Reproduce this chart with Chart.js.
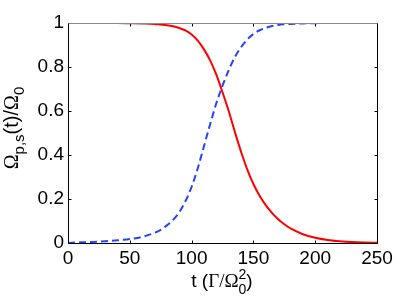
<!DOCTYPE html>
<html>
<head>
<meta charset="utf-8">
<script src="https://cdn.jsdelivr.net/npm/chart.js@4.4.1/dist/chart.umd.min.js"></script>
<style>
  html, body { margin: 0; padding: 0; background: #fff; }
  #wrap { position: relative; width: 415px; height: 308px; }
</style>
</head>
<body>
<div id="wrap"><canvas id="c"></canvas></div>
<script>
// time samples (units of Gamma/Omega_0^2)
const T = [0, 10, 20, 30, 40, 50, 60, 70, 75, 80, 85, 90, 95, 100, 105, 110, 115, 120, 125, 130, 135, 140, 145, 150, 155, 160, 165, 170, 175, 180, 190, 200, 210, 220, 230, 240, 250];
// pump (red, solid) and Stokes (blue, dashed), normalised to Omega_0
const P_VALS = [1, 1, 1, 1, 1, 0.999, 0.998, 0.996, 0.993, 0.99, 0.985, 0.977, 0.966, 0.948, 0.92, 0.88, 0.83, 0.765, 0.685, 0.6, 0.505, 0.415, 0.335, 0.268, 0.215, 0.172, 0.137, 0.108, 0.085, 0.066, 0.04, 0.024, 0.014, 0.008, 0.004, 0.002, 0.001];
const S_VALS = [0, 0.003, 0.005, 0.008, 0.012, 0.018, 0.028, 0.046, 0.06, 0.08, 0.105, 0.14, 0.19, 0.255, 0.34, 0.44, 0.54, 0.635, 0.715, 0.785, 0.845, 0.89, 0.925, 0.95, 0.967, 0.978, 0.986, 0.991, 0.994, 0.996, 0.998, 0.999, 1, 1, 1, 1, 1];
const X_TICKS = [0, 50, 100, 150, 200, 250];
const Y_TICKS = [0, 0.2, 0.4, 0.6, 0.8, 1];

const SANS = "'Liberation Sans', Arial, sans-serif";
const SERIF = "'Liberation Serif', 'Times New Roman', serif";

// draws text runs centred on (0,0) in the current transform
function drawRuns(ctx, runs) {
  let total = 0;
  runs.forEach(r => {
    ctx.font = r.size + 'px ' + (r.serif ? SERIF : SANS);
    r.w = r.stack
      ? Math.max(ctx.measureText(r.sup).width, ctx.measureText(r.sub).width)
      : ctx.measureText(r.t).width;
    total += r.w + (r.gap || 0);
  });
  let x = -total / 2;
  ctx.textBaseline = 'alphabetic';
  ctx.textAlign = 'left';
  runs.forEach(r => {
    ctx.font = r.size + 'px ' + (r.serif ? SERIF : SANS);
    if (r.stack) {
      ctx.fillText(r.sup, x, -8);
      ctx.fillText(r.sub, x, 7);
    } else {
      ctx.fillText(r.t, x, r.dy || 0);
    }
    x += r.w + (r.gap || 0);
  });
}

const frame = {
  id: 'frame',
  afterDraw(chart) {
    const { ctx, chartArea: a, scales } = chart;
    const L = Math.round(a.left) + 0.5, R = Math.round(a.right) + 0.5;
    const Tp = Math.round(a.top) + 0.5, B = Math.round(a.bottom) + 0.5;
    ctx.save();
    ctx.lineWidth = 1;
    ctx.strokeStyle = '#000';
    ctx.beginPath();
    X_TICKS.forEach(v => {
      const px = Math.round(scales.x.getPixelForValue(v)) + 0.5;
      ctx.moveTo(px, B); ctx.lineTo(px, B - 3);
      ctx.moveTo(px, Tp); ctx.lineTo(px, Tp + 3);
    });
    Y_TICKS.forEach(v => {
      const py = Math.round(scales.y.getPixelForValue(v)) + 0.5;
      ctx.moveTo(L, py); ctx.lineTo(L + 3, py);
      ctx.moveTo(R, py); ctx.lineTo(R - 3, py);
    });
    ctx.moveTo(L, Tp); ctx.lineTo(L, B); ctx.lineTo(R, B); ctx.lineTo(R, Tp);
    ctx.stroke();
    ctx.strokeStyle = '#888';
    ctx.beginPath();
    ctx.moveTo(L, Tp); ctx.lineTo(R, Tp);
    ctx.stroke();

    ctx.fillStyle = '#000';
    // x axis title: t (Γ/Ω_0^2)
    ctx.save();
    ctx.translate(222, 287);
    drawRuns(ctx, [
      { t: 't (', size: 19 },
      { t: '\u0393/\u03A9', size: 19, serif: true },
      { stack: true, sup: '2', sub: '0', size: 14 },
      { t: ')', size: 19 }
    ]);
    ctx.restore();
    // y axis title: Ω_{p,s}(t)/Ω_0
    ctx.save();
    ctx.translate(18, 128);
    ctx.rotate(-Math.PI / 2);
    drawRuns(ctx, [
      { t: '\u03A9', size: 20, serif: true },
      { t: 'p,s', size: 15, dy: 6 },
      { t: '(t)/', size: 20 },
      { t: '\u03A9', size: 20, serif: true },
      { t: '0', size: 15, dy: 6 }
    ]);
    ctx.restore();
    ctx.restore();
  }
};

new Chart(document.getElementById('c'), {
  type: 'line',
  data: {
    datasets: [
      {
        data: T.map((t, i) => ({ x: t, y: P_VALS[i] })),
        borderColor: '#ff0000', borderWidth: 2, pointRadius: 0,
        cubicInterpolationMode: 'monotone', fill: false
      },
      {
        data: T.map((t, i) => ({ x: t, y: S_VALS[i] })),
        borderColor: '#2244ff', borderWidth: 2, borderDash: [7, 4], pointRadius: 0,
        cubicInterpolationMode: 'monotone', fill: false
      }
    ]
  },
  options: {
    responsive: true,
    maintainAspectRatio: false,
    animation: false,
    layout: { padding: { top: 23, right: 38, left: 0, bottom: 0 } },
    plugins: { legend: { display: false }, tooltip: { enabled: false } },
    scales: {
      x: {
        type: 'linear', min: 0, max: 250,
        afterBuildTicks: s => { s.ticks = X_TICKS.map(v => ({ value: v })); },
        afterFit: s => { s.height = 65; },
        grid: { display: false, drawTicks: false },
        border: { display: false },
        ticks: { color: '#000', padding: 4, maxRotation: 0, font: { family: SANS, size: 19 } }
      },
      y: {
        min: 0, max: 1,
        afterBuildTicks: s => { s.ticks = Y_TICKS.map(v => ({ value: v })); },
        afterFit: s => { s.width = 68; },
        grid: { display: false, drawTicks: false },
        border: { display: false },
        ticks: { color: '#000', padding: 4, font: { family: SANS, size: 19 }, callback: v => String(+v.toFixed(1)) }
      }
    }
  },
  plugins: [frame]
});
</script>
</body>
</html>
